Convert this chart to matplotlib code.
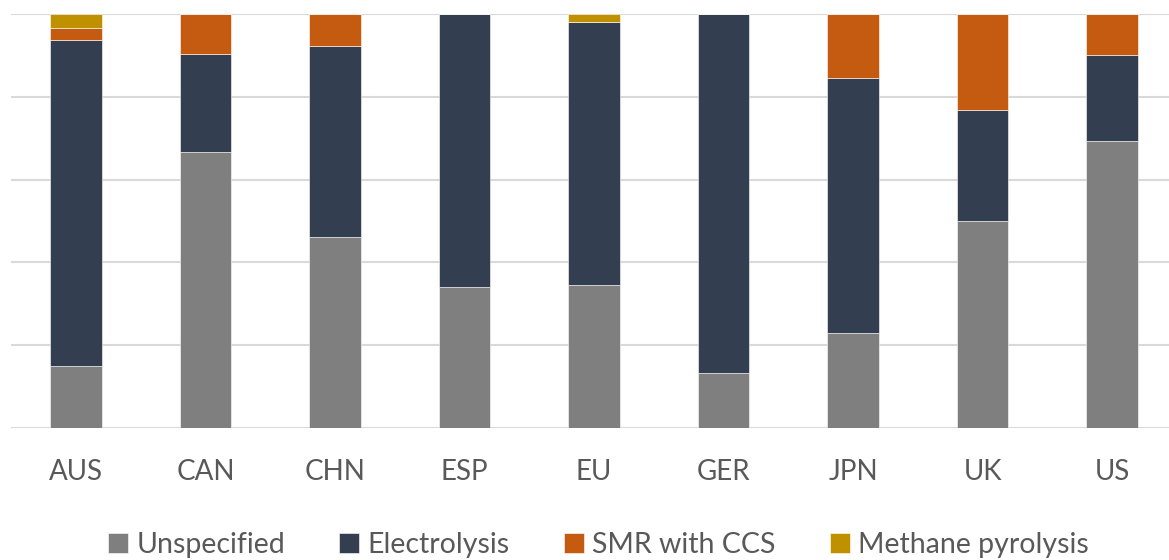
import matplotlib
matplotlib.use("Agg")
import matplotlib.pyplot as plt
import numpy as np

# Share of planned hydrogen production by route (percent of total)
countries = ["AUS", "CAN", "CHN", "ESP", "EU", "GER", "JPN", "UK", "US"]
unspecified = [15.0, 66.7, 46.1, 34.1, 34.5, 13.3, 22.9, 50.0, 69.3]
electrolysis = [78.7, 23.6, 46.2, 65.9, 63.6, 86.7, 61.6, 26.8, 20.8]
smr_ccs = [2.9, 9.7, 7.7, 0.0, 0.0, 0.0, 15.5, 23.2, 9.9]
methane_pyrolysis = [3.4, 0.0, 0.0, 0.0, 1.9, 0.0, 0.0, 0.0, 0.0]

series = [
    ("Unspecified", unspecified, "#7F7F7F"),
    ("Electrolysis", electrolysis, "#333F50"),
    ("SMR with CCS", smr_ccs, "#C55A11"),
    ("Methane pyrolysis", methane_pyrolysis, "#BF9000"),
]

plt.rcParams["font.family"] = ["Lato", "DejaVu Sans"]

fig = plt.figure(figsize=(11.69, 5.6), dpi=100)
ax = fig.add_axes([11.25 / 1169, 1 - 428 / 560, 1165.5 / 1169, 414 / 560])

x = np.arange(len(countries))
bottom = np.zeros(len(countries))
for name, vals, color in series:
    vals = np.array(vals)
    ax.bar(x, vals, width=0.394, bottom=bottom, color=color, label=name,
           edgecolor="white", linewidth=0.4, zorder=3)
    bottom += vals

ax.set_xlim(-0.5, len(countries) - 0.5)
ax.set_ylim(0, 100)
ax.set_yticks(np.arange(0, 101, 20))
ax.yaxis.grid(True, color="#D9D9D9", linewidth=1.5, zorder=0)
ax.set_yticklabels([])
ax.tick_params(axis="y", length=0)
ax.set_xticks(x)
ax.set_xticklabels(countries, fontsize=20, color="#595959")
ax.tick_params(axis="x", length=0, pad=22)
for spine in ax.spines.values():
    spine.set_visible(False)

fig.legend(loc="center", bbox_to_anchor=(0.512, 1 - 545 / 560), ncol=4,
           frameon=False, fontsize=20.5, labelcolor="#595959",
           handlelength=0.7, handleheight=0.7, handletextpad=0.3,
           columnspacing=1.9)

fig.savefig("out.png", dpi=100)
